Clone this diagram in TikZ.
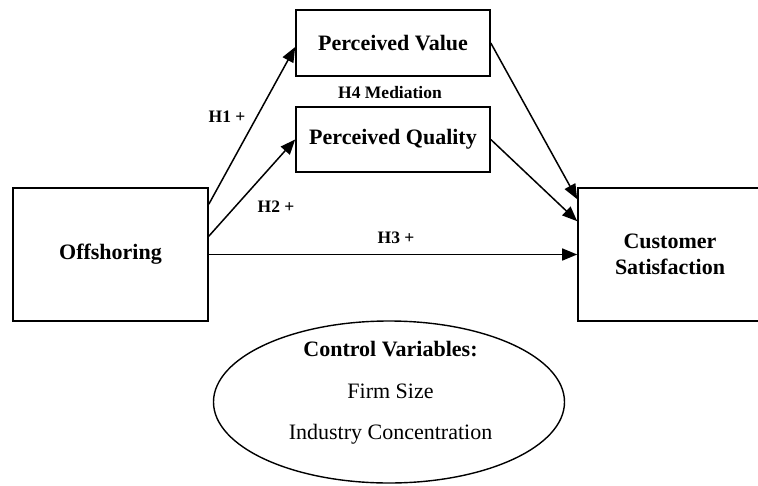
\documentclass[tikz,border=0pt]{standalone}
\usepackage{fontspec}
\setmainfont{Liberation Serif}
\usetikzlibrary{arrows.meta,shapes.geometric,calc}
\begin{document}
\begin{tikzpicture}[x=1pt,y=1pt,
  box/.style={draw=black,line width=1.6pt,rectangle,inner sep=0pt,align=center,
    font=\fontsize{22}{26}\selectfont\bfseries},
  lbl/.style={font=\fontsize{17.5}{20}\selectfont\bfseries,inner sep=0pt},
  arr/.style={draw=black,line width=1.5pt,-{Triangle[length=15pt,width=12pt]}},
  ctrl/.style={draw=black,line width=1.4pt,ellipse,inner sep=0pt}]
\useasboundingbox (0,0) rectangle (758,-485);
\begin{scope}
\clip (0,0) rectangle (758,-485);
\node[box,minimum width=195pt,minimum height=133pt] (off) at (110.5,-254.5) {Offshoring};
\node[box,minimum width=194pt,minimum height=66pt] (pv) at (393,-43) {Perceived Value};
\node[box,minimum width=194pt,minimum height=65pt] (pq) at (393,-139.5) {Perceived Quality};
\node[box,minimum width=184pt,minimum height=133pt] (cs) at (670,-254.5) {Customer\\Satisfaction};
\node[ctrl,minimum width=351pt,minimum height=162pt] (cv) at (389,-402) {};
\end{scope}
\node[align=center,inner sep=0pt,font=\fontsize{22}{41.5}\selectfont] (cvt) at ($(cv.center)+(1.5,9)$)
  {\textbf{Control Variables:}\\Firm Size\\Industry Concentration};
\coordinate (o1) at ($(off.north east)+(0,-17)$);
\coordinate (o2) at ($(off.north east)+(0,-49)$);
\coordinate (c1) at ($(cs.north west)+(0,-12)$);
\coordinate (c2) at ($(cs.north west)+(0,-34)$);
\draw[arr] (o1) -- ($(pv.west)+(0,-4)$);
\draw[arr] (o2) -- (pq.west);
\draw[arr] (off.east) -- (cs.west);
\draw[arr] (pv.east) -- (c1);
\draw[arr] (pq.east) -- (c2);
\node[lbl] (h1) at (227,-117) {H1 +};
\node[lbl] (h2) at (276,-207) {H2 +};
\node[lbl] (h3) at (396,-238) {H3 +};
\node[lbl] (h4) at (390,-93) {H4 Mediation};
\end{tikzpicture}
\end{document}
